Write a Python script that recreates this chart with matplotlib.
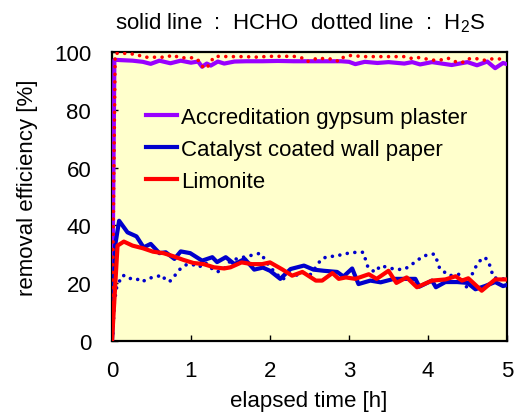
import matplotlib
matplotlib.use("Agg")
import matplotlib.pyplot as plt
from matplotlib.lines import Line2D

plt.rcParams["font.family"] = ["Liberation Sans", "DejaVu Sans"]
plt.rcParams["mathtext.fontset"] = "custom"
plt.rcParams["mathtext.rm"] = "Liberation Sans"

# HCHO, accreditation gypsum plaster (solid)
t_gyp_hcho = [0, 0.03, 0.1, 0.26, 0.39, 0.49, 0.6, 0.74, 0.87, 1.0, 1.09, 1.14, 1.2, 1.25,
              1.34, 1.42, 1.55, 1.7, 1.9, 2.1, 2.3, 2.5, 2.7, 2.9, 3.0, 3.08, 3.2, 3.36,
              3.5, 3.7, 3.8, 3.9, 4.05, 4.3, 4.5, 4.62, 4.75, 4.85, 4.95, 5.0]
v_gyp_hcho = [0, 97.3, 97.2, 97.0, 96.6, 95.9, 97.0, 96.1, 97.0, 96.3, 96.7, 94.9, 96.0, 95.3,
              96.7, 96.0, 96.7, 96.8, 96.8, 96.9, 96.8, 96.8, 96.8, 96.8, 96.6, 95.8, 96.6, 96.2,
              96.5, 96.0, 96.5, 95.7, 96.5, 95.5, 96.5, 95.4, 96.7, 94.4, 96.2, 95.8]

# H2S, limonite (dotted)
t_lim_h2s = [0, 0.04, 0.13, 0.2, 0.3, 0.4, 0.55, 0.7, 0.76, 0.86, 1.05, 1.11, 1.16, 1.2, 1.25,
             1.3, 1.5, 1.7, 1.8, 2.0, 2.3, 2.4, 2.46, 2.53, 2.6, 2.7, 2.8, 2.87, 2.93, 3.0,
             3.2, 3.5, 3.7, 3.78, 3.85, 4.0, 4.09, 4.17, 4.25, 4.34, 4.43, 4.5, 4.6, 4.7,
             4.78, 4.9, 5.0]
v_lim_h2s = [0, 99.5, 99.7, 99.3, 99.3, 98.2, 98.2, 98.2, 99.0, 98.0, 98.0, 96.7, 94.4, 94.4, 96.7,
             98.5, 98.4, 98.4, 98.2, 98.5, 98.5, 98.0, 96.7, 97.0, 98.0, 97.6, 97.6, 96.7, 98.2, 98.8,
             98.4, 98.4, 98.4, 97.8, 98.2, 97.5, 97.1, 97.3, 97.9, 96.7, 96.3, 97.6, 97.8, 97.1,
             97.6, 97.6, 97.6]

# HCHO, catalyst coated wall paper (solid)
t_cat_hcho = [0, 0.04, 0.09, 0.196, 0.31, 0.40, 0.49, 0.60, 0.68, 0.79, 0.87, 0.99, 1.14, 1.27,
              1.33, 1.44, 1.55, 1.68, 1.80, 1.91, 2.0, 2.13, 2.26, 2.43, 2.55, 2.68, 2.85, 2.93,
              3.04, 3.12, 3.27, 3.40, 3.57, 3.74, 3.84, 3.89, 4.05, 4.1, 4.22, 4.37, 4.5, 4.6,
              4.72, 4.85, 4.95, 5.0]
v_cat_hcho = [0, 33, 41.6, 37.6, 36.2, 32.4, 33.6, 30.4, 30.7, 28.4, 31.0, 30.4, 27.8, 29.0,
              27.3, 29.0, 26.6, 28.4, 24.7, 25.4, 24.3, 21.5, 24.9, 26.1, 24.7, 24.3, 23.9, 22.3,
              25.1, 19.7, 20.9, 20.3, 21.5, 21.5, 21.5, 18.8, 20.9, 18.6, 20.4, 20.4, 20.1, 17.9,
              19.0, 20.4, 19.0, 19.4]

# H2S, catalyst coated wall paper (dotted)
t_cat_h2s = [0, 0.01, 0.03, 0.06, 0.1, 0.14, 0.2, 0.3, 0.38, 0.45, 0.55, 0.64, 0.68, 0.74, 0.8,
             0.85, 0.93, 1.01, 1.1, 1.18, 1.24, 1.33, 1.41, 1.5, 1.6, 1.71, 1.79, 1.88, 1.93,
             1.98, 2.07, 2.16, 2.26, 2.34, 2.43, 2.5, 2.6, 2.65, 2.74, 2.83, 2.93, 3.0, 3.09,
             3.18, 3.21, 3.24, 3.33, 3.4, 3.48, 3.6, 3.71, 3.77, 3.85, 3.93, 4.0, 4.08, 4.12,
             4.15, 4.2, 4.27, 4.4, 4.49, 4.55, 4.62, 4.66, 4.72, 4.77, 4.8, 4.83, 4.9, 5.0]
v_cat_h2s = [0, 2, 13.5, 18.7, 21, 22.8, 21.6, 21.7, 20.4, 21.6, 22.2, 22.8, 20.8, 20.8, 22.8,
             24.6, 26.3, 26.6, 25.5, 27.2, 25.5, 23.9, 24.7, 27.8, 28.6, 29.3, 29.8, 30.4, 28.4,
             26.3, 23.5, 21.3, 23.5, 22.8, 23.5, 22.6, 26.3, 28.4, 29.3, 29.3, 30.1, 30.4, 30.7,
             30.7, 28.1, 25.5, 23.8, 26.1, 25.5, 24.7, 24.9, 26.1, 27.5, 29.3, 29.8, 30.1, 27.5,
             24.9, 24.0, 22.6, 23.1, 18.6, 22.6, 26.5, 27.8, 29.0, 27.2, 24.5, 22.0, 21.5, 21.5]

# HCHO, limonite (solid)
t_lim_hcho = [0, 0.07, 0.15, 0.26, 0.39, 0.52, 0.65, 0.78, 0.9, 1.03, 1.16, 1.29, 1.42, 1.5,
              1.64, 1.77, 1.9, 2.0, 2.16, 2.28, 2.41, 2.58, 2.66, 2.79, 2.87, 2.96, 3.08, 3.25,
              3.35, 3.5, 3.6, 3.73, 3.86, 4.05, 4.22, 4.35, 4.43, 4.51, 4.68, 4.85, 5.0]
v_lim_hcho = [0, 33.0, 34.4, 33.0, 32.1, 30.9, 30.4, 29.3, 28.1, 27.0, 26.6, 25.5, 25.1, 25.5,
              27.2, 26.6, 26.6, 27.2, 24.7, 22.6, 23.9, 20.9, 20.9, 23.5, 21.5, 22.0, 21.5, 23.1,
              21.5, 24.3, 20.1, 22.0, 18.6, 20.9, 21.3, 22.4, 20.9, 21.7, 17.4, 21.3, 21.3]

legend_labels = ["Accreditation gypsum plaster", "Catalyst coated wall paper", "Limonite"]
x_ticks = [0, 1, 2, 3, 4, 5]
y_ticks = [0, 20, 40, 60, 80, 100]

PURPLE = "#9900FF"
BLUE = "#0000CC"
RED = "#FF0000"
FS = 16

fig = plt.figure(figsize=(5.17, 4.14), dpi=100)
ax = fig.add_axes([112 / 517, 1 - 342 / 414, 395 / 517, 289 / 414])
ax.set_facecolor("#FFFFCC")

solid_kw = dict(lw=3.0, solid_joinstyle="round", solid_capstyle="round")
dot_kw = dict(lw=2.6, linestyle=(0, (0.01, 2.1)), dash_capstyle="round")

ax.plot(t_cat_h2s, v_cat_h2s, color=BLUE, **dot_kw, zorder=2)
ax.plot(t_gyp_hcho, v_gyp_hcho, color=PURPLE, **solid_kw, zorder=3)
ax.plot(t_cat_hcho, v_cat_hcho, color=BLUE, **solid_kw, zorder=3)
ax.plot(t_lim_hcho, v_lim_hcho, color=RED, **solid_kw, zorder=4)
ax.plot(t_lim_h2s, v_lim_h2s, color=RED, **dot_kw, zorder=5)

ax.set_xlim(0, 5)
ax.set_ylim(0, 100)
ax.set_xticks(x_ticks)
ax.set_yticks(y_ticks)
ax.tick_params(direction="in", length=4, width=1, labelsize=FS)
ax.tick_params(axis="y", pad=15)
ax.tick_params(axis="x", pad=14)
for s in ax.spines.values():
    s.set_linewidth(1.6)
    s.set_color("black")

fig.text(309 / 517, 1 - 402 / 414, "elapsed time [h]", ha="center", va="center", fontsize=FS)
fig.text(28 / 517, 1 - 188 / 414, "removal efficiency [%]", ha="center", va="center",
         rotation=90, fontsize=FS)

handles = [Line2D([], [], color=c, lw=3) for c in (PURPLE, BLUE, RED)]
ax.legend(handles, legend_labels, loc="upper left", bbox_to_anchor=(0.085, 0.81),
          frameon=False, fontsize=FS, handlelength=1.4, handletextpad=0.2,
          labelspacing=0.5, borderaxespad=0, borderpad=0)

fig.text(300 / 517, 1 - 23 / 414,
         r"solid line  :  HCHO  dotted line  :  H$_\mathregular{2}$S",
         ha="center", va="center", fontsize=FS)

fig.savefig("out.png", dpi=100)
